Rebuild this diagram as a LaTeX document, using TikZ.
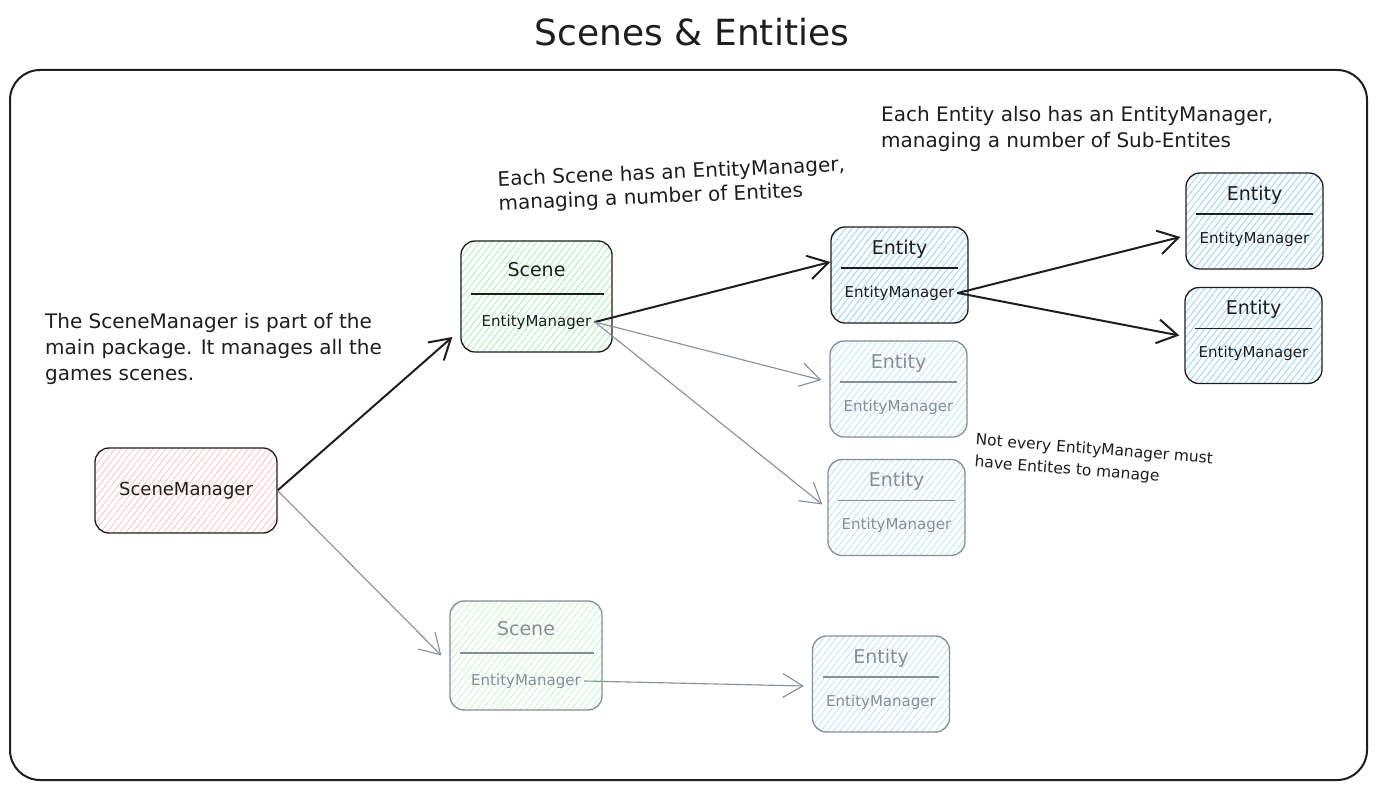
\documentclass[tikz,border=0pt]{standalone}
\usepackage{fontspec}
\setmainfont{DejaVu Sans}
\usetikzlibrary{arrows.meta,patterns.meta}
\definecolor{ink}{HTML}{1e1e1e}
\definecolor{fadeink}{HTML}{868e96}
\definecolor{redfill}{HTML}{ffc9c9}
\definecolor{greenfill}{HTML}{b2f2bb}
\definecolor{bluefill}{HTML}{a5d8ff}
\begin{document}
\begin{tikzpicture}[x=1pt,y=-1pt,
  card/.style={rounded corners=14pt,inner sep=0pt,line width=1.3pt,
    minimum width=137pt,minimum height=96pt},
  inked/.style={draw=ink,text=ink},
  faded/.style={draw=fadeink,text=fadeink},
  hatch/.style={pattern={Lines[angle=52,distance=5pt,line width=1pt]},pattern color=#1},
  cardtitle/.style={font=\fontsize{19}{21}\selectfont},
  cardsub/.style={font=\fontsize{15}{17}\selectfont},
  note/.style={anchor=north west,align=left,inner sep=0pt,text=ink,
    font=\fontsize{20}{26}\selectfont},
  smallnote/.style={note,font=\fontsize{15.5}{18}\selectfont},
  divider/.style={line width=1.3pt},
  link/.style={line width=2pt,draw=ink,line cap=round,
    -{Straight Barb[length=20pt,width=24pt,line width=2pt]}},
  fadelink/.style={line width=1.1pt,draw=fadeink,line cap=round,
    -{Straight Barb[length=20pt,width=24pt,line width=1.1pt]}}]
\fill[white] (0,0) rectangle (1377,791);
\useasboundingbox (0,0) rectangle (1377,791);
% title and frame
\node[text=ink,font=\fontsize{36}{40}\selectfont] (title) at (692,32) {Scenes \& Entities};
\draw[ink,line width=2pt,rounded corners=30pt] (10,70) rectangle (1367,780);
% scene manager
\node[card,inked,hatch=redfill,minimum width=182pt,minimum height=85pt,
  font=\fontsize{18}{20}\selectfont] (mgr) at (186,490.5) {SceneManager};
% scenes
\node[card,inked,hatch=greenfill,minimum width=151pt,minimum height=111pt] (sca) at (536.5,296.5) {};
\node[card,faded,hatch=greenfill!65,minimum width=152pt,minimum height=109pt] (scb) at (526,655.5) {};
\foreach \n/\s in {sca/inked,scb/faded}{
  \node[cardtitle,\s,draw=none] (\n T) at ([yshift=26.5pt]\n.center) {Scene};
  \node[cardsub,\s,draw=none] (\n M) at ([yshift=-25.5pt]\n.center) {EntityManager};
  \draw[divider,\s] ([xshift=11pt,yshift=2.5pt]\n.west) -- ([xshift=-9pt,yshift=2.5pt]\n.east);
}
% entities
\foreach \n/\x/\y/\s/\c in {ea/899.5/275/inked/100,eb/898.5/389/faded/65,ec/896.5/507.5/faded/65,
    sa/1254.5/221/inked/100,sb/1253.5/335.5/inked/100,ed/881/684/faded/65}{
  \node[card,\s,hatch=bluefill!\c] (\n) at (\x,\y) {};
  \node[cardtitle,\s,draw=none] (\n T) at ([yshift=26pt]\n.center) {Entity};
  \node[cardsub,\s,draw=none] (\n M) at ([yshift=-18pt]\n.center) {EntityManager};
  \draw[divider,\s] ([xshift=11pt,yshift=7pt]\n.west) -- ([xshift=-11pt,yshift=7pt]\n.east);
}
% connectors
\draw[link] (mgr.east) -- ([xshift=-8pt,yshift=-40.5pt]sca.west);
\draw[fadelink] (mgr.east) -- ([xshift=-8pt]scb.west);
\draw[link] (scaM.east) -- ([yshift=13pt]ea.west);
\draw[fadelink] (scaM.east) -- ([xshift=-8pt,yshift=9pt]eb.west);
\draw[fadelink] (scaM.east) -- ([xshift=-5pt,yshift=3pt]ec.west);
\draw[link] (eaM.east) -- ([xshift=-5pt,yshift=-16pt]sa.west);
\draw[link] (eaM.east) -- ([xshift=-5pt]sb.west);
\draw[fadelink] (scbM.east) -- ([xshift=-8pt,yshift=-2pt]ed.west);
% notes
\node[note] (mgrnote) at (45,313) {The SceneManager is part of the\\main package. It manages all the\\games scenes.};
\node[note,rotate=2.5] (scnoteA) at (497,171) {Each Scene has an EntityManager,};
\node[note,rotate=2.5] (scnoteB) at (498,195) {managing a number of Entites};
\node[note] (entnote) at (881,106) {Each Entity also has an EntityManager,\\managing a number of Sub-Entites};
\node[smallnote,rotate=-4.5] (emptynoteA) at (976,433) {Not every EntityManager must};
\node[smallnote,rotate=-4.5] (emptynoteB) at (975,455) {have Entites to manage};
\end{tikzpicture}
\end{document}
